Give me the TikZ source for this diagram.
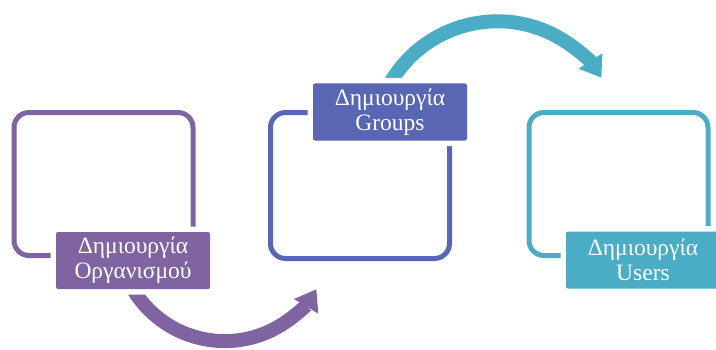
\documentclass[tikz,border=0pt]{standalone}
\usepackage{fontspec}
\setmainfont{Liberation Serif}
\newfontfamily\tagfont{Liberation Serif}
\usetikzlibrary{arrows.meta, positioning, backgrounds}
\definecolor{mpurp}{HTML}{8064A2}
\definecolor{mblue}{HTML}{5866B4}
\definecolor{mteal}{HTML}{4BACC6}
\tikzstyle{frame} = [rectangle, rounded corners=15pt, line width=5pt, minimum width=179pt, minimum height=143pt]
\tikzstyle{tag} = [rectangle, rounded corners=2pt, minimum width=154pt, minimum height=57pt, inner sep=2pt, text=white, text centered, font=\tagfont\fontsize{23.5}{25}\selectfont, preaction={draw=white, line width=11pt}]
\tikzstyle{flow} = [line width=14pt, -{Triangle[width=27pt, length=20pt]}]

\begin{document}
\begin{tikzpicture}[align=center, x=1pt, y=1pt]
  \useasboundingbox (0,0) rectangle (716,349);
  \node (box1) [frame, draw=mpurp] at (103.5,165) {};
  \node (box2) [frame, draw=mblue, minimum height=146pt] at (360,163.5) {};
  \node (box3) [frame, draw=mteal] at (618.5,165) {};
  \node (org) [tag, fill=mpurp] at (133,88.5) {Δημιουργία\\Οργανισμού};
  \node (grp) [tag, fill=mblue] at (390,237) {Δημιουργία\\Groups};
  \node (usr) [tag, fill=mteal] at (643,89) {Δημιουργία\\Users};
  \begin{scope}[on background layer]
    \draw [flow, draw=mpurp] (org.south) arc[start angle=211, end angle=329, radius=107];
    \draw [flow, draw=mteal] (grp.north) arc[start angle=150, end angle=33, radius=124];
  \end{scope}
\end{tikzpicture}
\end{document}
